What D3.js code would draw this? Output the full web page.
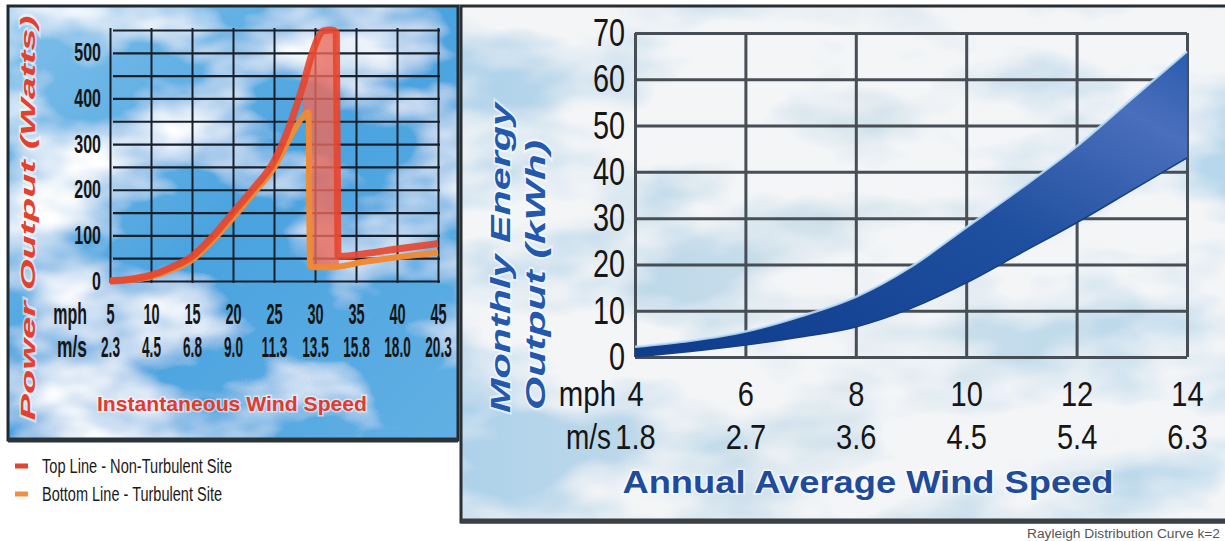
<!DOCTYPE html>
<html>
<head>
<meta charset="utf-8">
<script src="https://cdn.jsdelivr.net/npm/d3@7"></script>
<style>
  html, body { margin: 0; padding: 0; background: #ffffff; }
  svg { display: block; }
  text { font-family: "Liberation Sans", Arial, sans-serif; }
</style>
</head>
<body>
<svg id="chart" width="1225" height="541"></svg>
<script>
// ---------------- DATA ----------------
// Left chart: instantaneous power curve
const leftMphTicks = [5, 10, 15, 20, 25, 30, 35, 40, 45];
const leftMsLabels = ["2.3", "4.5", "6.8", "9.0", "11.3", "13.5", "15.8", "18.0", "20.3"];
const leftWattGrid = [0, 50, 100, 150, 200, 250, 300, 350, 400, 450, 500, 550];
const leftWattLabels = [0, 100, 200, 300, 400, 500];

const topLineMph   = [5, 7.5, 10, 12.5, 15, 17.5, 20, 22.5, 25, 27, 28.5, 29.5, 30.3, 31, 32, 32.6, 32.8, 33.2, 36, 40, 45];
const topLineWatts = [0, 4, 13, 30, 54, 97, 150, 203, 262, 345, 426, 490, 530, 548, 550, 545, 55, 54, 60, 70, 82];

const bottomLineMph   = [5, 7.5, 10, 12.5, 15, 17.5, 20, 22.5, 25, 27, 28.5, 29.2, 29.4, 30, 32, 33, 36, 40, 45];
const bottomLineWatts = [0, 2, 9, 24, 46, 88, 138, 192, 248, 315, 360, 370, 32, 30, 30, 32, 42, 52, 62];

const legendLabels = ["Top Line - Non-Turbulent Site", "Bottom Line - Turbulent Site"];

// Right chart: monthly energy band (Rayleigh distribution)
const rightMphTicks = [4, 6, 8, 10, 12, 14];
const rightMsLabels = ["1.8", "2.7", "3.6", "4.5", "5.4", "6.3"];
const rightKwhTicks = [0, 10, 20, 30, 40, 50, 60, 70];

const bandMph   = [4, 5, 6, 7, 8, 9, 10, 11, 12, 13, 14];
const bandUpper = [2.2, 3.5, 5.5, 8.8, 13, 19.5, 28, 36.5, 45.5, 55.8, 66];
const bandLower = [0, 1.2, 2.6, 4.3, 6.5, 10.5, 16, 22.5, 29, 36, 43];

// ---------------- SETUP ----------------
const svg = d3.select("#chart");
const defs = svg.append("defs");

// horizontally condense a text around its anchor point (keeps real bounding boxes)
function condense(sel, f) {
  sel.each(function () {
    const t = d3.select(this);
    const x = +(t.attr("x") || 0);
    t.attr("x", x / f).attr("transform", `scale(${f},1)`);
  });
}

// cloud filters
function cloudFilter(id, freq, seed, color, a, b) {
  const f = defs.append("filter").attr("id", id)
    .attr("x", 0).attr("y", 0).attr("width", "100%").attr("height", "100%");
  f.append("feTurbulence").attr("type", "fractalNoise")
    .attr("baseFrequency", freq).attr("numOctaves", 4).attr("seed", seed).attr("result", "noise");
  f.append("feColorMatrix").attr("in", "noise").attr("type", "matrix")
    .attr("values", `0 0 0 0 ${color[0]}  0 0 0 0 ${color[1]}  0 0 0 0 ${color[2]}  ${a} 0 0 0 ${b}`)
    .attr("result", "cloud");
  f.append("feComposite").attr("in", "cloud").attr("in2", "SourceGraphic").attr("operator", "over");
}
cloudFilter("cloudsL", "0.006 0.011", 7, [1, 1, 1], 3.2, -1.45);
cloudFilter("cloudsR", "0.005 0.010", 11, [0.90, 0.915, 0.93], 3.6, -1.05);

const gL = defs.append("linearGradient").attr("id", "skyL").attr("x1", 0).attr("y1", 0).attr("x2", 1).attr("y2", 1);
gL.append("stop").attr("offset", "0%").attr("stop-color", "#7fc0ea");
gL.append("stop").attr("offset", "50%").attr("stop-color", "#4aa3df");
gL.append("stop").attr("offset", "100%").attr("stop-color", "#62b0e4");

const gR = defs.append("linearGradient").attr("id", "skyR").attr("x1", 0).attr("y1", 0).attr("x2", 1).attr("y2", 0);
gR.append("stop").attr("offset", "0%").attr("stop-color", "#aed2ea");
gR.append("stop").attr("offset", "50%").attr("stop-color", "#cfe0ea");
gR.append("stop").attr("offset", "100%").attr("stop-color", "#b4d6ec");

const gBand = defs.append("linearGradient").attr("id", "bandGrad").attr("x1", 0).attr("y1", 1).attr("x2", 1).attr("y2", 0);
gBand.append("stop").attr("offset", "0%").attr("stop-color", "#0f3c8c");
gBand.append("stop").attr("offset", "55%").attr("stop-color", "#1f4f9f");
gBand.append("stop").attr("offset", "85%").attr("stop-color", "#4a6fbb");
gBand.append("stop").attr("offset", "100%").attr("stop-color", "#2a5cae");

// ---------------- PANELS ----------------
const leftPanel = { x: 8, y: 6, w: 450, h: 434 };
const rightPanel = { x: 461, y: 6, w: 780, h: 516 };

svg.append("rect").attr("x", leftPanel.x).attr("y", leftPanel.y).attr("width", leftPanel.w).attr("height", leftPanel.h)
  .attr("fill", "url(#skyL)").attr("filter", "url(#cloudsL)");
svg.append("rect").attr("x", leftPanel.x).attr("y", leftPanel.y).attr("width", leftPanel.w).attr("height", leftPanel.h)
  .attr("fill", "none").attr("stroke", "#1f2a30").attr("stroke-width", 3);
svg.append("line").attr("x1", leftPanel.x).attr("x2", leftPanel.x + leftPanel.w)
  .attr("y1", leftPanel.y + leftPanel.h).attr("y2", leftPanel.y + leftPanel.h)
  .attr("stroke", "#2a3438").attr("stroke-width", 5);

svg.append("rect").attr("x", rightPanel.x).attr("y", rightPanel.y).attr("width", rightPanel.w).attr("height", rightPanel.h)
  .attr("fill", "url(#skyR)").attr("filter", "url(#cloudsR)");
svg.append("rect").attr("x", rightPanel.x).attr("y", rightPanel.y).attr("width", rightPanel.w).attr("height", rightPanel.h)
  .attr("fill", "none").attr("stroke", "#2a2f33").attr("stroke-width", 3);
svg.append("line").attr("x1", rightPanel.x).attr("x2", 1225)
  .attr("y1", rightPanel.y + rightPanel.h - 1).attr("y2", rightPanel.y + rightPanel.h - 1)
  .attr("stroke", "#3a4044").attr("stroke-width", 5);

// ---------------- LEFT CHART ----------------
const xL = d3.scaleLinear().domain([5, 45]).range([110, 438]);
const yL = d3.scaleLinear().domain([0, 550]).range([281, 30]);

// horizontal gridlines + labels
const yAxisL = svg.append("g").attr("transform", `translate(${xL(5)},0)`)
  .call(d3.axisLeft(yL).tickValues(leftWattGrid).tickSize(-(xL(45) - xL(5))).tickPadding(9)
    .tickFormat(d => leftWattLabels.includes(d) ? d : ""));
yAxisL.select(".domain").remove();
yAxisL.selectAll("line").attr("stroke", "#18202c").attr("stroke-width", 2.2).attr("x1", 3).attr("x2", xL(45) - xL(5) + 2);
yAxisL.selectAll("text").attr("font-size", 25).attr("font-weight", "bold").attr("fill", "#161616")
  .attr("font-family", "Liberation Sans, Arial, sans-serif").call(condense, 0.64);

// vertical gridlines
const xGridL = svg.append("g").attr("transform", `translate(0,${yL(0) + 2})`)
  .call(d3.axisBottom(xL).tickValues(leftMphTicks).tickSize(-(yL(0) - yL(550) + 4)).tickFormat(""));
xGridL.select(".domain").remove();
xGridL.selectAll("line").attr("stroke", "#18202c").attr("stroke-width", 2);

// x label rows
function labelRow(scale, ticks, fmt, y, size, f, weight) {
  const g = svg.append("g").attr("transform", `translate(0,${y})`)
    .call(d3.axisBottom(scale).tickValues(ticks).tickSize(0).tickPadding(0).tickFormat(fmt));
  g.select(".domain").remove();
  g.selectAll("text").attr("y", 0).attr("dy", "0.36em").attr("font-size", size).attr("fill", "#161616")
    .attr("font-weight", weight).attr("font-family", "Liberation Sans, Arial, sans-serif").call(condense, f);
  return g;
}
labelRow(xL, leftMphTicks, d => d, 314, 29, 0.5, "bold");
labelRow(xL, leftMphTicks, (d, i) => leftMsLabels[i], 347, 29, 0.47, "bold");

svg.append("text").attr("x", 87).attr("y", 314).attr("dy", "0.36em").attr("text-anchor", "end")
  .attr("font-size", 29).attr("font-weight", "bold").attr("fill", "#161616").text("mph").call(condense, 0.55);
svg.append("text").attr("x", 87).attr("y", 347).attr("dy", "0.36em").attr("text-anchor", "end")
  .attr("font-size", 29).attr("font-weight", "bold").attr("fill", "#161616").text("m/s").call(condense, 0.6);

// filled region between lines near the peak
const topPts = topLineMph.map((m, i) => [m, topLineWatts[i]]);
const botPts = bottomLineMph.map((m, i) => [m, bottomLineWatts[i]]);
const fillPts = topPts.filter(p => p[0] >= 28.5 && p[0] <= 32.8)
  .concat(botPts.filter(p => p[0] >= 28.5 && p[0] <= 33).reverse());
svg.append("path")
  .attr("d", d3.line().x(p => xL(p[0])).y(p => yL(p[1]))(fillPts))
  .attr("fill", "#ec6a5a").attr("fill-opacity", 0.8);

const lineL = d3.line().x(p => xL(p[0])).y(p => yL(p[1])).curve(d3.curveMonotoneX);
svg.append("path").attr("d", lineL(botPts)).attr("fill", "none")
  .attr("stroke", "#f08a35").attr("stroke-width", 6).attr("stroke-linejoin", "round").attr("stroke-opacity", 0.95);
svg.append("path").attr("d", lineL(topPts)).attr("fill", "none")
  .attr("stroke", "#e8452c").attr("stroke-width", 7).attr("stroke-linejoin", "round").attr("stroke-opacity", 0.9);
// orange stays visible along the lower portion
svg.append("path").attr("d", lineL(botPts.filter(p => p[0] >= 29.2))).attr("fill", "none")
  .attr("stroke", "#f08a35").attr("stroke-width", 5).attr("stroke-linejoin", "round").attr("stroke-opacity", 0.9);

// left titles
svg.append("text").attr("x", 232).attr("y", 404).attr("dy", "0.35em").attr("text-anchor", "middle")
  .attr("font-size", 21).attr("font-weight", "bold").attr("fill", "#e23a2c")
  .attr("stroke", "#ffffff").attr("stroke-width", 3).attr("stroke-opacity", 0.55).attr("paint-order", "stroke")
  .attr("textLength", 270).attr("lengthAdjust", "spacingAndGlyphs")
  .text("Instantaneous Wind Speed");

svg.append("text").attr("transform", "translate(28,218) rotate(-90)").attr("dy", "0.35em").attr("text-anchor", "middle")
  .attr("font-size", 21).attr("font-weight", "bold").attr("font-style", "italic").attr("fill", "#e5402c")
  .attr("stroke", "#ffffff").attr("stroke-width", 3).attr("stroke-opacity", 0.5).attr("paint-order", "stroke")
  .attr("textLength", 405).attr("lengthAdjust", "spacingAndGlyphs")
  .text("Power Output (Watts)");

// legend
const legColors = ["#e0452e", "#ef9040"];
const legY = [466, 494];
const legLen = [190, 180];
legendLabels.forEach((t, i) => {
  svg.append("rect").attr("x", 15).attr("y", legY[i] - 2.5).attr("width", 13).attr("height", 5).attr("fill", legColors[i]);
  svg.append("text").attr("x", 42).attr("y", legY[i]).attr("dy", "0.35em").attr("font-size", 20)
    .attr("fill", "#1a1a1a").attr("textLength", legLen[i]).attr("lengthAdjust", "spacingAndGlyphs").text(t);
});

// ---------------- RIGHT CHART ----------------
const xR = d3.scaleLinear().domain([4, 14]).range([635, 1187]);
const yR = d3.scaleLinear().domain([0, 70]).range([357, 33]);

const bandPts = bandMph.map((m, i) => ({ m, lo: bandLower[i], hi: bandUpper[i] }));
const area = d3.area().x(d => xR(d.m)).y0(d => yR(d.lo)).y1(d => yR(d.hi)).curve(d3.curveMonotoneX);

// horizontal gridlines + labels
const yAxisR = svg.append("g").attr("transform", `translate(${xR(4)},0)`)
  .call(d3.axisLeft(yR).tickValues(rightKwhTicks).tickSize(-(xR(14) - xR(4))).tickPadding(10));
yAxisR.select(".domain").remove();
yAxisR.selectAll("line").attr("stroke", "#474e55").attr("stroke-width", 3);
yAxisR.selectAll("text").attr("font-size", 39).attr("fill", "#161616")
  .attr("font-family", "Liberation Sans, Arial, sans-serif").call(condense, 0.74);

const xGridR = svg.append("g").attr("transform", `translate(0,${yR(0)})`)
  .call(d3.axisBottom(xR).tickValues(rightMphTicks).tickSize(-(yR(0) - yR(70))).tickFormat(""));
xGridR.select(".domain").remove();
xGridR.selectAll("line").attr("stroke", "#474e55").attr("stroke-width", 3);

svg.append("path").attr("d", area(bandPts)).attr("fill", "url(#bandGrad)");
const upperLine = d3.line().x(d => xR(d.m)).y(d => yR(d.hi)).curve(d3.curveMonotoneX);
const lowerLine = d3.line().x(d => xR(d.m)).y(d => yR(d.lo)).curve(d3.curveMonotoneX);
svg.append("path").attr("d", upperLine(bandPts)).attr("fill", "none")
  .attr("stroke", "#bfe2fb").attr("stroke-width", 2.5).attr("stroke-opacity", 0.85);
svg.append("path").attr("d", lowerLine(bandPts)).attr("fill", "none")
  .attr("stroke", "#143f88").attr("stroke-width", 1.5);

labelRow(xR, rightMphTicks, d => d, 393, 35, 0.83, "normal");
labelRow(xR, rightMphTicks, (d, i) => rightMsLabels[i], 436, 35, 0.83, "normal");
svg.append("text").attr("x", 616).attr("y", 393).attr("dy", "0.36em").attr("text-anchor", "end")
  .attr("font-size", 35).attr("fill", "#161616").text("mph").call(condense, 0.84);
svg.append("text").attr("x", 611).attr("y", 436).attr("dy", "0.36em").attr("text-anchor", "end")
  .attr("font-size", 35).attr("fill", "#161616").text("m/s").call(condense, 0.8);

// right titles
svg.append("text").attr("x", 868).attr("y", 482).attr("dy", "0.35em").attr("text-anchor", "middle")
  .attr("font-size", 32).attr("font-weight", "bold").attr("fill", "#1e4b9c")
  .attr("stroke", "#ffffff").attr("stroke-width", 3).attr("stroke-opacity", 0.6).attr("paint-order", "stroke")
  .attr("textLength", 491).attr("lengthAdjust", "spacingAndGlyphs")
  .text("Annual Average Wind Speed");

svg.append("text").attr("transform", "translate(500,258) rotate(-90)").attr("dy", "0.35em").attr("text-anchor", "middle")
  .attr("font-size", 28).attr("font-weight", "bold").attr("font-style", "italic").attr("fill", "#2258ae")
  .attr("stroke", "#ffffff").attr("stroke-width", 3).attr("stroke-opacity", 0.55).attr("paint-order", "stroke")
  .attr("textLength", 310).attr("lengthAdjust", "spacingAndGlyphs")
  .text("Monthly Energy");
svg.append("text").attr("transform", "translate(535,275) rotate(-90)").attr("dy", "0.35em").attr("text-anchor", "middle")
  .attr("font-size", 28).attr("font-weight", "bold").attr("font-style", "italic").attr("fill", "#2258ae")
  .attr("stroke", "#ffffff").attr("stroke-width", 3).attr("stroke-opacity", 0.55).attr("paint-order", "stroke")
  .attr("textLength", 270).attr("lengthAdjust", "spacingAndGlyphs")
  .text("Output (kWh)");

// caption
svg.append("text").attr("x", 1220).attr("y", 534).attr("dy", "0.35em").attr("text-anchor", "end")
  .attr("font-size", 12).attr("fill", "#555").attr("textLength", 193).attr("lengthAdjust", "spacingAndGlyphs")
  .text("Rayleigh Distribution Curve k=2");
</script>
</body>
</html>
